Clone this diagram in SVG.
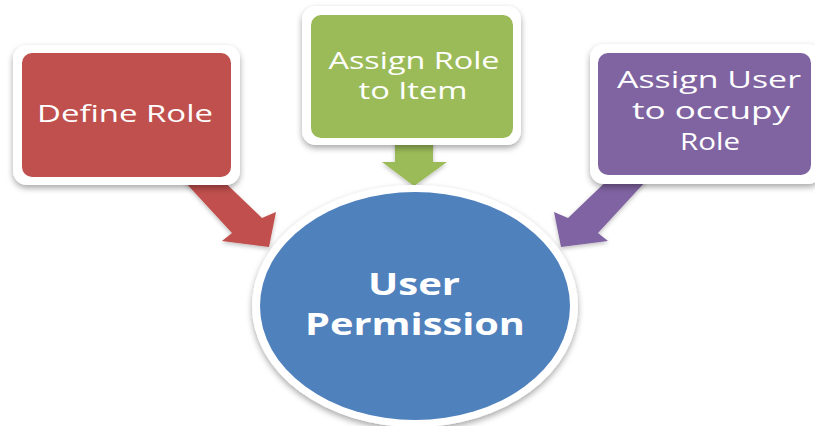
<svg xmlns="http://www.w3.org/2000/svg" width="815" height="426" viewBox="0 0 815 426">
  <defs>
    <filter id="sh" x="-10%" y="-10%" width="120%" height="125%">
      <feDropShadow dx="0" dy="3" stdDeviation="3" flood-color="#000" flood-opacity="0.35"/>
    </filter>
    <filter id="ash" x="-20%" y="-20%" width="140%" height="140%">
      <feDropShadow dx="0" dy="2" stdDeviation="2" flood-color="#000" flood-opacity="0.25"/>
    </filter>
    <style>
      .frame { fill: #ffffff; }
      .lbl { font-family: "Open Sans", "Liberation Sans", sans-serif; font-size: 23px; fill: #ffffff; text-anchor: middle; }
      .big { font-family: "Open Sans", "Liberation Sans", sans-serif; font-size: 30px; font-weight: bold; fill: #ffffff; text-anchor: middle; }
    </style>
  </defs>
  <rect width="815" height="426" fill="#ffffff"/>

  <g id="connectors" filter="url(#ash)">
    <polygon fill="#C0504D" points="184,181 232,233 222,241 269,247 276,212 262,218 213,171"/>
    <polygon fill="#9BBB59" points="395,140 433,140 433,162 447,162 414,186 382,162 395,162"/>
    <polygon fill="#8064A2" points="646,181 598,233 608,241 561,247 554,212 568,218 617,171"/>
  </g>

  <g id="node-define-role">
    <rect class="frame" x="13" y="45" width="227" height="140" rx="14" filter="url(#sh)"/>
    <rect x="22" y="53" width="209" height="124" rx="10" fill="#C0504D"/>
    <text class="lbl" x="125" y="122" textLength="176" lengthAdjust="spacingAndGlyphs">Define Role</text>
  </g>

  <g id="node-assign-role">
    <rect class="frame" x="302" y="6" width="219" height="139" rx="14" filter="url(#sh)"/>
    <rect x="311" y="15" width="202" height="123" rx="10" fill="#9BBB59"/>
    <text class="lbl" x="414" y="69" textLength="171" lengthAdjust="spacingAndGlyphs">Assign Role</text>
    <text class="lbl" x="413" y="99" textLength="109" lengthAdjust="spacingAndGlyphs">to Item</text>
  </g>

  <g id="node-assign-user">
    <rect class="frame" x="590" y="44" width="232" height="140" rx="14" filter="url(#sh)"/>
    <rect x="598" y="53" width="213" height="122" rx="10" fill="#8064A2"/>
    <text class="lbl" x="709" y="88" textLength="184" lengthAdjust="spacingAndGlyphs">Assign User</text>
    <text class="lbl" x="711" y="119" textLength="158" lengthAdjust="spacingAndGlyphs">to occupy</text>
    <text class="lbl" x="710" y="150" textLength="60" lengthAdjust="spacingAndGlyphs">Role</text>
  </g>

  <g id="node-user-permission">
    <ellipse class="frame" cx="415" cy="306" rx="163" ry="121" filter="url(#sh)"/>
    <ellipse cx="415" cy="306" rx="155" ry="114" fill="#4F81BD"/>
    <text class="big" x="414" y="295" textLength="92" lengthAdjust="spacingAndGlyphs">User</text>
    <text class="big" x="415" y="335" textLength="220" lengthAdjust="spacingAndGlyphs">Permission</text>
  </g>
</svg>
